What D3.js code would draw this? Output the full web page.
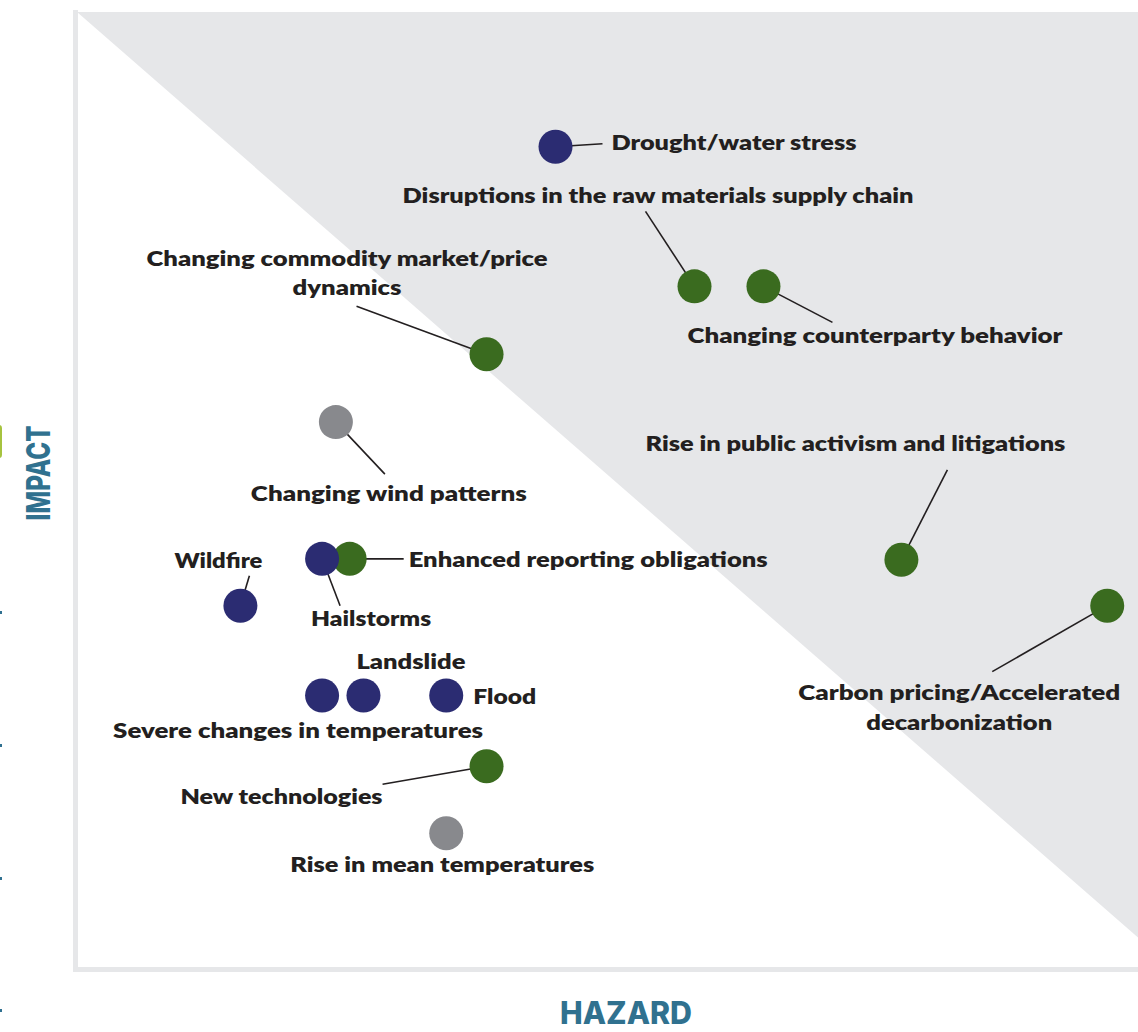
<!DOCTYPE html>
<html>
<head>
<meta charset="utf-8">
<script src="https://cdn.jsdelivr.net/npm/d3@7"></script>
<style>
  html, body { margin: 0; padding: 0; background: #fff; }
  svg text { font-family: "Lato", "Open Sans", sans-serif; }
  svg text.axis-title { font-family: "Inter", "Open Sans", sans-serif; }
</style>
</head>
<body>
<script>
// risk names, hazard (x) and impact (y) scores 0-100, and risk type
var risks = ["Enhanced reporting obligations", "Drought/water stress", "Disruptions in the raw materials supply chain",
  "Changing counterparty behavior", "Changing commodity market/price dynamics", "Changing wind patterns",
  "Rise in public activism and litigations", "Carbon pricing/Accelerated decarbonization",
  "Wildfire", "Hailstorms", "Landslide", "Flood", "Severe changes in temperatures",
  "New technologies", "Rise in mean temperatures"];
var hazard = [25.7, 45.1, 58.2, 64.7, 38.6, 24.4, 77.7, 97.1, 15.4, 23.1, 27.0, 34.8, 23.1, 38.6, 34.8];
var impact = [42.8, 85.9, 71.3, 71.3, 64.2, 57.1, 42.7, 37.9, 37.9, 42.8, 28.5, 28.5, 28.5, 21.1, 14.1];
var kind = ["transition", "physical", "transition", "transition", "transition", "chronic",
  "transition", "transition", "physical", "physical", "physical", "physical", "physical",
  "transition", "chronic"];

var color = d3.scaleOrdinal()
    .domain(["physical", "transition", "chronic"])
    .range(["#2b2c72", "#3a6b1f", "#88898d"]);

// label placement, pixel offsets from the bubble centre
var labelLayout = {
  "Enhanced reporting obligations": {lines: ["Enhanced reporting obligations"], dx: 59, dy: [1], anchor: "start", w: [359], lead: [54, 0]},
  "Drought/water stress": {lines: ["Drought/water stress"], dx: 56, dy: [-4], anchor: "start", w: [245], lead: [47, -3]},
  "Disruptions in the raw materials supply chain": {lines: ["Disruptions in the raw materials supply chain"], dx: -36.5, dy: [-91], anchor: "middle", w: [511], lead: [-49, -75]},
  "Changing counterparty behavior": {lines: ["Changing counterparty behavior"], dx: 111.5, dy: [49], anchor: "middle", w: [375], lead: [69, 36]},
  "Changing commodity market/price dynamics": {lines: ["Changing commodity market/price", "dynamics"], dx: -139.5, dy: [-96, -67], anchor: "middle", w: [401, 109], lead: [-130, -48]},
  "Changing wind patterns": {lines: ["Changing wind patterns"], dx: 53, dy: [71], anchor: "middle", w: [276], lead: [49, 52]},
  "Rise in public activism and litigations": {lines: ["Rise in public activism and litigations"], dx: -46, dy: [-116], anchor: "middle", w: [420], lead: [46, -90]},
  "Carbon pricing/Accelerated decarbonization": {lines: ["Carbon pricing/Accelerated", "decarbonization"], dx: -148, dy: [87, 117], anchor: "middle", w: [322, 186], lead: [-115, 66]},
  "Wildfire": {lines: ["Wildfire"], dx: -22, dy: [-45], anchor: "middle", w: [88], lead: [9, -30]},
  "Hailstorms": {lines: ["Hailstorms"], dx: 49, dy: [60], anchor: "middle", w: [120], lead: [18, 47]},
  "Landslide": {lines: ["Landslide"], dx: 47.5, dy: [-34], anchor: "middle", w: [109], lead: null},
  "Flood": {lines: ["Flood"], dx: 27, dy: [1], anchor: "start", w: [63], lead: null},
  "Severe changes in temperatures": {lines: ["Severe changes in temperatures"], dx: -24, dy: [35], anchor: "middle", w: [370], lead: null},
  "New technologies": {lines: ["New technologies"], dx: -205, dy: [30], anchor: "middle", w: [202], lead: [-104, 18]},
  "Rise in mean temperatures": {lines: ["Rise in mean temperatures"], dx: -4, dy: [31], anchor: "middle", w: [304], lead: null}
};

var width = 1138, height = 1032;
var x = d3.scaleLinear().domain([0, 100]).range([77, 1138]);
var y = d3.scaleLinear().domain([0, 100]).range([968, 12]);

var svg = d3.select("body").append("svg")
    .attr("width", width)
    .attr("height", height);

// shaded high-risk triangle
var tri = [[0, 100], [100, 100], [100, 3.2]];
svg.append("path")
    .attr("d", d3.line().x(function(d) { return x(d[0]); }).y(function(d) { return y(d[1]); })(tri) + "Z")
    .attr("fill", "#e6e7e9");

// axis frame
svg.append("rect").attr("x", x(0) - 4).attr("y", y(100) - 2).attr("width", 5).attr("height", y(0) - y(100) + 6).attr("fill", "#e6e7e9");
svg.append("rect").attr("x", x(0) - 2).attr("y", y(0) - 1).attr("width", x(100) - x(0) + 2).attr("height", 5).attr("fill", "#e6e7e9");

// bits of the neighbouring graphic clipped at the left edge
svg.append("rect").attr("x", -4).attr("y", 425).attr("width", 6).attr("height", 33).attr("rx", 3).attr("fill", "#a6c33f");
[612, 745, 878, 1010].forEach(function(t) {
  svg.append("rect").attr("x", 0).attr("y", t - 1).attr("width", 2).attr("height", 3).attr("fill", "#2f7090");
});

// axis titles
svg.append("text")
    .attr("class", "axis-title")
    .attr("transform", "translate(50,473) rotate(-90)")
    .attr("text-anchor", "middle")
    .attr("font-size", 33)
    .attr("font-weight", 800)
    .attr("fill", "#30718f")
    .attr("textLength", 95)
    .attr("lengthAdjust", "spacingAndGlyphs")
    .text("IMPACT");

svg.append("text")
    .attr("class", "axis-title")
    .attr("x", 626)
    .attr("y", 1024)
    .attr("text-anchor", "middle")
    .attr("font-size", 31)
    .attr("font-weight", 800)
    .attr("fill", "#30718f")
    .attr("textLength", 132)
    .attr("lengthAdjust", "spacingAndGlyphs")
    .text("HAZARD");

var pts = risks.map(function(r, i) {
  return {name: r, cx: x(hazard[i]), cy: y(impact[i]), kind: kind[i], lay: labelLayout[r]};
});

// leader lines
svg.selectAll(".lead")
    .data(pts.filter(function(d) { return d.lay.lead; }))
  .enter().append("line")
    .attr("class", "lead")
    .attr("x1", function(d) { return d.cx; })
    .attr("y1", function(d) { return d.cy; })
    .attr("x2", function(d) { return d.cx + d.lay.lead[0]; })
    .attr("y2", function(d) { return d.cy + d.lay.lead[1]; })
    .attr("stroke", "#231f20")
    .attr("stroke-width", 1.6);

// bubbles
svg.selectAll(".dot")
    .data(pts)
  .enter().append("circle")
    .attr("class", "dot")
    .attr("cx", function(d) { return d.cx; })
    .attr("cy", function(d) { return d.cy; })
    .attr("r", 17)
    .attr("fill", function(d) { return color(d.kind); });

// labels
var lab = svg.selectAll(".lab")
    .data(pts)
  .enter().append("g")
    .attr("class", "lab");

lab.each(function(d) {
  var g = d3.select(this);
  d.lay.lines.forEach(function(line, k) {
    g.append("text")
        .attr("x", d.cx + d.lay.dx)
        .attr("y", d.cy + d.lay.dy[k])
        .attr("dy", "0.36em")
        .attr("text-anchor", d.lay.anchor)
        .attr("font-size", 21)
        .attr("font-weight", 800)
        .attr("fill", "#231f20")
        .attr("textLength", d.lay.w[k])
        .attr("lengthAdjust", "spacingAndGlyphs")
        .text(line);
  });
});
</script>
</body>
</html>
